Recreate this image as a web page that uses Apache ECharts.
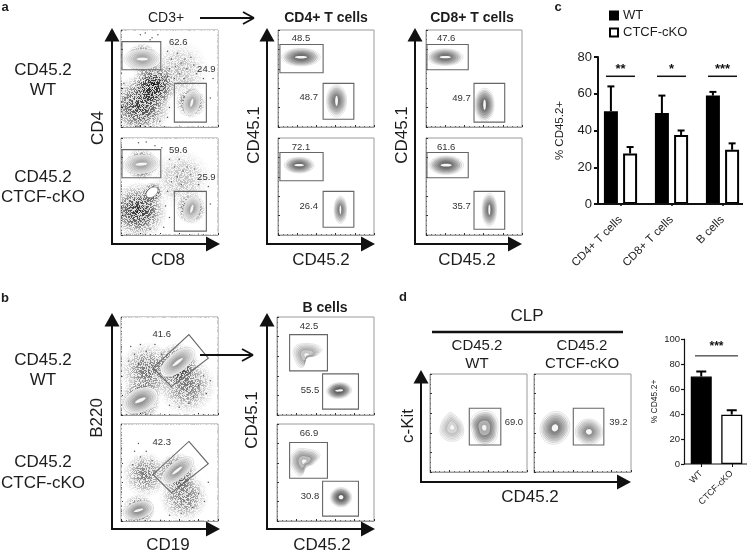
<!DOCTYPE html>
<html><head><meta charset="utf-8">
<style>html,body{margin:0;padding:0;background:#fff}#c{width:749px;height:553px}</style>
<script src="https://cdn.jsdelivr.net/npm/echarts@6/dist/echarts.min.js"></script>
</head><body><div id="c"></div>
<script>
// ---------- bar chart values (panel c)
const cCategories = ['CD4+ T cells','CD8+ T cells','B cells'];
const cWT = [50.5,49.5,59];
const cKO = [27.5,37.5,29.5];
const cWTerr = [64,59,61];
const cKOerr = [31,40,33];
const cSig = [[0,69.5,'**'],[1,69.5,'*'],[2,69.5,'***']];
const cTicks = [0,20,40,60,80];
// ---------- bar chart values (panel d)
const dCategories = ['WT','CTCF-cKO'];
const dValues = [70,39.5];
const dErr = [74,43];
const dSig = '***';
const dSigY = 86.5;
// ---------- flow plots. All in percent of the plot, first column = plot number
// 0,1 CD4/CD8 | 2,3 CD4+ | 4,5 CD8+ | 6,7 B220/CD19 | 8,9 B cells | 10,11 CLP
const gateRects = [
 [0,1,59,41,88],[0,55,5,88,45],[1,1,59,41,88],[1,55,4,88,45],
 [2,2,56,47,85],[2,47,8,79,45],[3,2,56,47,85],[3,47,8,79,45],
 [4,1,59,44,85],[4,50,5,82,45],[5,1,59,44,85],[5,50,6,82,45],
 [8,13,45,52,82],[8,47,6,84,42],[9,13,44,52,81],[9,47,5,84,41],
 [10,40.5,27.5,73,65],[11,40.5,27.5,72,65]
];
const gatePolys = [
 [6,[[70,82],[90,58],[52,29],[33,48]]],
 [7,[[70,82],[90,59],[52,29],[33,48]]]
];
const gateLabels = [
 [0,59,87,'62.6'],[0,88,59,'24.9'],[1,59,87,'59.6'],[1,88,59,'25.9'],
 [2,24,91,'48.5'],[2,32,31,'48.7'],[3,24,90,'72.1'],[3,32,30,'26.4'],
 [4,21,91,'47.6'],[4,37,29,'49.7'],[5,21,90,'61.6'],[5,37,29,'35.7'],
 [6,42,82,'41.6'],[7,42,81,'42.3'],
 [8,33,90,'42.5'],[8,34,25,'55.5'],[9,33,90,'66.9'],[9,34,25,'30.8'],
 [10,86.5,51,'69.0'],[11,87,51,'39.2']
];
// plot, cx, cy, rx, ry, tilt degrees, darkness
const contours = [
 [0,22,70,19,10.5,0,0.4],[0,73,25,8.5,13.5,-14,0.4],
 [1,21,73,19,10,5,0.4],[1,73,27,8.5,13.5,-16,0.4],[1,32,44,7,4.5,38,0.02],
 [2,24,72,20,9,0,1.0],[2,61,27,10.5,16.5,0,0.85],
 [3,22,72,15.5,8,0,1.0],[3,65,26,6.5,14,0,0.75],
 [4,20,72,18.5,8.5,0,0.95],[4,61,23,10,17,0,1.0],
 [5,21,72,18,9.5,0,1.1],[5,66,26,7.5,17,0,0.9],
 [6,58.5,54,21,10,38,0.5],[6,20,15,19,12,25,0.55],
 [7,58,52,20,9,38,0.5],[7,18,11,16,9,15,0.55],
 [8,64,25,13,8,5,1.25],[9,66,24.5,11,10,0,1.25],
 [11,21.6,45,15,17,-22,0.8],[11,56.6,41,14,13,-10,0.65]
];
// plot, darkness, outline points
const blobs = [
 [8,0.55,[[17.5,68],[30.5,73],[46,68],[41,61],[30.5,58],[27,49],[21,51]]],
 [9,0.8,[[14,62],[19.5,73],[32,74],[44,69],[39,60],[30,55],[25.5,47],[19.5,49]]],
 [10,0.35,[[10.3,42.8],[18.9,60],[25.8,58],[34.3,46],[31,34],[17,32.6]]],
 [10,1.1,[[43,55],[55,62.5],[67,58],[69.6,39.5],[63.6,29],[50,29],[43,43]]]
];
// plot, cx, cy, rx, ry, tilt, strength : density of the dot clouds
const clouds = [
 [0,22,70,27,17,0,1],[0,34,43,24,24,0,1],[0,20,22,36,32,0,0.9],[0,72,25,16,23,-14,1],[0,60,58,38,32,0,0.3],
 [1,21,73,27,17,5,1],[1,33,44,14,11,38,1],[1,18,25,30,38,0,0.95],[1,72,27,16,23,-16,1],[1,62,58,36,32,0,0.3],
 [6,58,52,34,22,38,0.9],[6,20,15,30,21,25,1],[6,28,45,30,36,0,0.65],[6,68,30,33,30,0,0.6],
 [7,58,50,33,21,38,0.9],[7,18,11,26,17,15,1],[7,25,48,24,38,0,0.6],[7,65,25,33,26,0,0.6]
];
const strayDots = [
 [0,20,95],[0,25,97],[0,32,92],[0,38,95],[0,30,90],[0,48,78],[0,52,70],[0,58,76],[0,62,66],[0,66,70],[0,68,60],[0,72,72],[0,75,64],[0,56,62],[0,50,60],[0,60,55],[0,78,55],[0,48,52],[0,55,50],[0,65,50],[0,85,50],[0,92,30],[0,45,30],[0,50,20],[0,48,10],[0,40,6],[0,10,4],[0,3,45],[0,4,30],[0,95,50],
 [1,18,95],[1,26,96],[1,35,92],[1,42,90],[1,50,78],[1,55,70],[1,60,78],[1,64,66],[1,68,70],[1,72,62],[1,76,68],[1,58,60],[1,52,55],[1,62,52],[1,80,52],[1,48,45],[1,46,30],[1,50,18],[1,44,8],[1,30,6],[1,92,32],[1,90,50],
 [6,10,70],[6,14,62],[6,20,72],[6,8,55],[6,26,65],[6,18,52],[6,35,72],[6,42,62],[6,80,30],[6,88,22],[6,75,18],[6,85,40],[6,70,12],[6,60,8],[6,92,35],[6,50,10],
 [7,14,72],[7,20,66],[7,12,58],[7,26,72],[7,32,62],[7,18,80],[7,80,28],[7,86,20],[7,74,14],[7,62,8],[7,90,40],[7,50,6]
];
// ---------- texts
const sideLabels = [['CD45.2',43,70],['WT',43,90],['CD45.2',43,177],['CTCF-cKO',43,197],
  ['CD45.2',43,360],['WT',43,380],['CD45.2',43,462],['CTCF-cKO',43,483]];
const axisTitles = [['CD8',168,260,0],['CD45.2',321,260,0],['CD45.2',467,260,0],
  ['CD4',98,128,90],['CD45.1',254,135,90],['CD45.1',402,135,90],
  ['CD19',168,545,0],['CD45.2',322,545,0],['B220',97,418,90],['CD45.1',252,420,90],
  ['c-Kit',408,426,90],['CD45.2',530,497,0]];
const boldTitles = [['CD4+ T cells',326,18],['CD8+ T cells',472,18],['B cells',325,308]];
const panelLetters = [['a',5,7],['b',5,298],['c',558,7],['d',403,297]];
const clpLabels = [['CD45.2',477,346],['WT',477,364],['CD45.2',582,346],['CTCF-cKO',582,364]];

// ---------- layout
const plotBoxes = [[121,30,97,97],[121,138,97,97],[278,30,96,97],[278,138,96,97],[426,30,96,97],[426,138,96,97],
  [121,317,97,98],[121,424,97,97],[277,317,97,98],[277,424,97,97],[430,374,97,98],[534,374,97,98]];
const arrowAxes = [[112,28,244,220],[267,28,244,375],[415,28,244,522],[112,313,529,220],[267,313,529,375],[421,370,482,631]];

const FONT = '"Liberation Sans", Arial, sans-serif';
const INK = '#1d1d1d';
const grids = [], xAxes = [], yAxes = [], series = [], graphic = [];

// stipple texture laid over the density clouds so they read as dots (a fill style, not data)
const grain = document.createElement('canvas');
grain.width = grain.height = 101;
(function(){
  const g = grain.getContext('2d');
  for(let y=0;y<101;y++) for(let x=0;x<101;x++){
    const h = Math.sin(x*12.9898+y*78.233)*43758.5453, f = h-Math.floor(h);
    if(f<0.55){ g.fillStyle=`rgba(255,255,255,${0.5+f*0.8})`; g.fillRect(x,y,1,1); }
  }
})();

plotBoxes.forEach((b,i)=>{
  grids.push({left:b[0],top:b[1],width:b[2],height:b[3],show:true,borderColor:'#9a9a9a',borderWidth:1,backgroundColor:'#fff'});
  const ax = {type:'value',min:0,max:100,interval:20,gridIndex:i,silent:true,
    axisLine:{show:true,lineStyle:{color:'#9a9a9a',width:1}},
    axisTick:{show:true,inside:true,length:2,lineStyle:{color:'#333',width:1}},
    minorTick:{show:true,splitNumber:4,length:1,lineStyle:{color:'#666'}},
    axisLabel:{show:false},splitLine:{show:false}};
  xAxes.push(Object.assign({},ax)); yAxes.push(Object.assign({},ax));
});

const base = i => ({type:'custom',coordinateSystem:'cartesian2d',xAxisIndex:i,yAxisIndex:i,clip:true,silent:true,animation:false,encode:{x:0,y:1}});

function cloudItem(p,api){
  const c = api.coord([api.value(0),api.value(1)]);
  const s = api.size([1,1]);
  const a = api.value(5);
  return {type:'ellipse',x:c[0],y:c[1],rotation:api.value(4)*Math.PI/180,
    shape:{cx:0,cy:0,rx:api.value(2)*s[0],ry:api.value(3)*s[1]},
    style:{fill:new echarts.graphic.RadialGradient(0.5,0.5,0.5,[
      {offset:0,color:`rgba(0,0,0,${a*0.9})`},{offset:0.45,color:`rgba(0,0,0,${a*0.6})`},{offset:0.75,color:`rgba(0,0,0,${a*0.2})`},{offset:1,color:'rgba(0,0,0,0)'}])}};
}
const RINGS = [1,0.9,0.8,0.7,0.6,0.5,0.42,0.34,0.26];
function contourItem(p,api){
  const c = api.coord([api.value(0),api.value(1)]);
  const s = api.size([1,1]);
  const rx = api.value(2)*s[0], ry = api.value(3)*s[1], rot = api.value(4)*Math.PI/180, tone = api.value(5);
  if(tone<0.1){
    return {type:'ellipse',x:c[0],y:c[1],rotation:rot,shape:{cx:0,cy:0,rx,ry},style:{fill:'#fff',stroke:'#444',lineWidth:0.5}};
  }
  const children = RINGS.map((k,n)=>({type:'ellipse',x:c[0],y:c[1],rotation:rot,
    shape:{cx:0,cy:0,rx:rx*k,ry:ry*k},
    style:{fill: n===0?'#fff':`rgba(50,50,50,${0.14*tone})`,stroke:'rgba(100,100,100,0.35)',lineWidth:0.5}}));
  const hx = rx>1.4*ry?0.32:(ry>1.4*rx?0.14:0.22), hy = rx>1.4*ry?0.14:(ry>1.4*rx?0.32:0.22);
  children.push({type:'ellipse',x:c[0],y:c[1],rotation:rot,shape:{cx:0,cy:0,rx:rx*hx,ry:ry*hy},style:{fill:'#f6f6f6'}});
  return {type:'group',children};
}
function blobItem(list){
  return (p,api)=>{
    const pts = list[p.dataIndex][2];
    const cx = pts.reduce((t,q)=>t+q[0],0)/pts.length, cy = pts.reduce((t,q)=>t+q[1],0)/pts.length;
    const tone = list[p.dataIndex][1];
    const poly = (k,style)=>({type:'polygon',shape:{smooth:0.45,points:pts.map(q=>api.coord([cx+(q[0]-cx)*k,cy+(q[1]-cy)*k]))},style});
    const children = RINGS.map((k,n)=>poly(k,{fill:n===0?'#fff':`rgba(50,50,50,${0.14*tone})`,stroke:'rgba(100,100,100,0.35)',lineWidth:0.5}));
    children.push(poly(0.42,{fill:'rgba(255,255,255,0.45)'}));
    children.push(poly(0.16,{fill:'rgba(255,255,255,0.85)'}));
    return {type:'group',children};
  };
}
plotBoxes.forEach((b,i)=>{
  const cl = clouds.filter(r=>r[0]===i).map(r=>r.slice(1));
  if(cl.length){
    series.push(Object.assign(base(i),{data:cl,renderItem:cloudItem}));
    series.push(Object.assign(base(i),{data:[[0,0]],renderItem:(p,api)=>{
      const cs = p.coordSys;
      return {type:'rect',shape:{x:cs.x,y:cs.y,width:cs.width,height:cs.height},style:{fill:{type:'pattern',image:grain,repeat:'repeat'}}};
    }}));
  }
  const dots = strayDots.filter(r=>r[0]===i).map(r=>r.slice(1));
  if(dots.length) series.push({type:'scatter',xAxisIndex:i,yAxisIndex:i,silent:true,animation:false,data:dots,symbolSize:1.5,itemStyle:{color:'#333'}});
  const ct = contours.filter(r=>r[0]===i).map(r=>r.slice(1));
  if(ct.length) series.push(Object.assign(base(i),{data:ct,renderItem:contourItem}));
  const bl = blobs.filter(r=>r[0]===i);
  if(bl.length) series.push(Object.assign(base(i),{data:bl.map(r=>[r[2][0][0],r[2][0][1]]),renderItem:blobItem(bl)}));
  const gr = gateRects.filter(r=>r[0]===i).map(r=>r.slice(1));
  if(gr.length) series.push(Object.assign(base(i),{data:gr,clip:false,encode:{x:[0,2],y:[1,3]},renderItem:(p,api)=>{
    const a = api.coord([api.value(0),api.value(3)]), z = api.coord([api.value(2),api.value(1)]);
    return {type:'rect',shape:{x:a[0],y:a[1],width:z[0]-a[0],height:z[1]-a[1]},style:{fill:'none',stroke:'#666',lineWidth:1.1}};
  }}));
  const gp = gatePolys.filter(r=>r[0]===i);
  if(gp.length) series.push(Object.assign(base(i),{data:gp.map(r=>r[1][0]),clip:false,renderItem:(p,api)=>({
    type:'polygon',shape:{points:gp[p.dataIndex][1].map(q=>api.coord(q))},style:{fill:'none',stroke:'#666',lineWidth:1.1}})}));
  const lb = gateLabels.filter(r=>r[0]===i);
  if(lb.length) series.push(Object.assign(base(i),{data:lb.map(r=>[r[1],r[2]]),clip:false,renderItem:(p,api)=>{
    const c = api.coord([api.value(0),api.value(1)]);
    return {type:'text',x:c[0],y:c[1],style:{text:lb[p.dataIndex][3],x:0,y:0,align:'center',verticalAlign:'middle',font:'9.5px '+FONT,fill:'#333'}};
  }}));
});

// ---------- panel c
const cG = grids.length;
grids.push({left:595,top:57,width:153,height:147});
xAxes.push({type:'category',gridIndex:cG,data:cCategories,axisLine:{show:false},
  axisTick:{show:true,alignWithLabel:true,length:2,lineStyle:{color:'#111',width:1.5}},
  axisLabel:{interval:0,rotate:45,margin:14,fontSize:11.5,fontFamily:FONT,color:INK}});
yAxes.push({type:'value',gridIndex:cG,min:0,max:80,interval:20,offset:-3,
  axisLine:{show:true,lineStyle:{color:'#111',width:2}},axisTick:{show:true,length:4,lineStyle:{color:'#111',width:2}},
  axisLabel:{fontSize:13,margin:6,fontFamily:FONT,color:INK},splitLine:{show:false},
  name:'% CD45.2+',nameLocation:'middle',nameGap:32,nameRotate:90,nameTextStyle:{fontSize:11.5,fontFamily:FONT,color:INK}});
const bw = 14, cOff = 9.6;
const barStyle = (fill)=>({color:fill,borderColor:'#000',borderWidth:2});
series.push({type:'bar',name:'WT',xAxisIndex:cG,yAxisIndex:cG,data:cWT,barWidth:bw,barGap:'37%',itemStyle:barStyle('#000'),animation:false,silent:true});
series.push({type:'bar',name:'CTCF-cKO',xAxisIndex:cG,yAxisIndex:cG,data:cKO,barWidth:bw,barGap:'37%',itemStyle:barStyle('#fff'),animation:false,silent:true});
function errItem(off,cap){
  return (p,api)=>{
    const t = api.coord([api.value(0),api.value(2)]), b = api.coord([api.value(0),api.value(1)]);
    const x = t[0]+off, st = {stroke:'#000',lineWidth:2};
    return {type:'group',children:[
      {type:'line',shape:{x1:x,y1:b[1],x2:x,y2:t[1]},style:st},
      {type:'line',shape:{x1:x-cap,y1:t[1],x2:x+cap,y2:t[1]},style:st}]};
  };
}
const cErrBase = {type:'custom',xAxisIndex:cG,yAxisIndex:cG,silent:true,animation:false,encode:{x:0,y:2}};
series.push(Object.assign({},cErrBase,{z:1,data:cWT.map((v,i)=>[i,v,cWTerr[i]]),renderItem:errItem(-cOff,3.5)}));
series.push(Object.assign({},cErrBase,{z:1,data:cKO.map((v,i)=>[i,v,cKOerr[i]]),renderItem:errItem(cOff,3.5)}));
function sigItem(half,labels,fs,dy){
  return (p,api)=>{
    const c = api.coord([api.value(0),api.value(1)]);
    return {type:'group',children:[
      {type:'line',shape:{x1:c[0]-half,y1:c[1],x2:c[0]+half,y2:c[1]},style:{stroke:'#111',lineWidth:1.5}},
      {type:'text',x:c[0],y:c[1]-dy,style:{text:labels[p.dataIndex],x:0,y:0,align:'center',verticalAlign:'middle',font:'bold '+fs+'px '+FONT,fill:'#111'}}]};
  };
}
series.push(Object.assign({},cErrBase,{encode:{x:0,y:1},data:cSig.map(r=>[r[0],r[1]]),renderItem:sigItem(14.5,cSig.map(r=>r[2]),13,7)}));

// ---------- panel d bars
const dG = grids.length;
grids.push({left:686,top:339,width:61,height:125});
xAxes.push({type:'category',gridIndex:dG,data:dCategories,axisLine:{show:false},
  axisTick:{show:true,alignWithLabel:true,length:3,lineStyle:{color:'#111',width:1}},
  axisLabel:{interval:0,rotate:45,margin:8,fontSize:9,fontFamily:FONT,color:INK}});
yAxes.push({type:'value',gridIndex:dG,min:0,max:100,interval:20,offset:2,
  axisLine:{show:true,lineStyle:{color:'#111',width:1.2}},axisTick:{show:true,length:3,lineStyle:{color:'#111',width:1.2}},
  axisLabel:{fontSize:9.5,margin:4,fontFamily:FONT,color:INK},splitLine:{show:false},
  name:'% CD45.2+',nameLocation:'middle',nameGap:25,nameRotate:90,nameTextStyle:{fontSize:8.5,fontFamily:FONT,color:INK}});
series.push({type:'bar',name:'CLP',xAxisIndex:dG,yAxisIndex:dG,barWidth:21,animation:false,silent:true,
  data:dValues.map((v,i)=>({value:v,itemStyle:{color:i?'#fff':'#000',borderColor:'#000',borderWidth:1.3}}))});
const dErrBase = {type:'custom',xAxisIndex:dG,yAxisIndex:dG,silent:true,animation:false,encode:{x:0,y:2}};
series.push(Object.assign({},dErrBase,{data:dValues.map((v,i)=>[i,v,dErr[i]]),renderItem:errItem(0,5)}));
series.push(Object.assign({},dErrBase,{encode:{x:0,y:1},data:[[0.5,dSigY]],renderItem:(p,api)=>{
  const c = api.coord([0,api.value(1)]), e = api.coord([1,api.value(1)]), mx=(c[0]+e[0])/2;
  return {type:'group',children:[
    {type:'line',shape:{x1:mx-21.5,y1:c[1],x2:mx+21.5,y2:c[1]},style:{stroke:'#111',lineWidth:1}},
    {type:'text',x:mx,y:c[1]-9,style:{text:dSig,x:0,y:0,align:'center',verticalAlign:'middle',font:'bold 12px '+FONT,fill:'#111'}}]};
}}));

// ---------- furniture
function text(t,x,y,font,rot){
  graphic.push({type:'text',x,y,rotation:rot?rot*Math.PI/180:0,silent:true,z:20,
    style:{text:t,x:0,y:0,align:'center',verticalAlign:'middle',font:font+' '+FONT,fill:INK}});
}
sideLabels.forEach(r=>text(r[0],r[1],r[2],'17px'));
axisTitles.forEach(r=>text(r[0],r[1],r[2],'17px',r[3]));
boldTitles.forEach(r=>text(r[0],r[1],r[2],'bold 14px'));
panelLetters.forEach(r=>text(r[0],r[1],r[2],'bold 13px'));
clpLabels.forEach(r=>text(r[0],r[1],r[2],'15px'));
text('CD3+',166,18,'14px');
text('CLP',527,316,'17px');
const ln = (x1,y1,x2,y2,w,c)=>graphic.push({type:'line',z:20,silent:true,shape:{x1,y1,x2,y2},style:{stroke:c||'#111',lineWidth:w}});
const tri = pts=>graphic.push({type:'polygon',z:20,silent:true,shape:{points:pts},style:{fill:'#111'}});
arrowAxes.forEach(a=>{
  const [x,t,b,r]=a;
  ln(x,t+12,x,b,2); ln(x-1,b,r-13,b,2);
  tri([[x,t],[x-7.5,t+13.5],[x+7.5,t+13.5]]);
  tri([[r,b],[r-14,b-7.5],[r-14,b+7.5]]);
});
function openArrow(x1,x2,y){ ln(x1,y,x2,y,1.8); ln(x2-11,y-6,x2,y,1.8); ln(x2-11,y+6,x2,y,1.8); }
openArrow(200,254,18);
openArrow(200,253,355);
ln(432,332,623,332,2.5);
ln(597,204,743,204,2,'#111');
ln(684,464,747,464,1.2,'#111');

const chart = echarts.init(document.getElementById('c'),null,{renderer:'canvas'});
chart.setOption({
  animation:false,backgroundColor:'#fff',
  grid:grids,xAxis:xAxes,yAxis:yAxes,series,graphic,
  legend:{data:['WT','CTCF-cKO'],orient:'vertical',left:604,top:4,itemWidth:8,itemHeight:8,itemGap:4,
    textStyle:{fontSize:13,fontFamily:FONT,color:INK},selectedMode:false,icon:'rect'}
});
</script></body></html>
